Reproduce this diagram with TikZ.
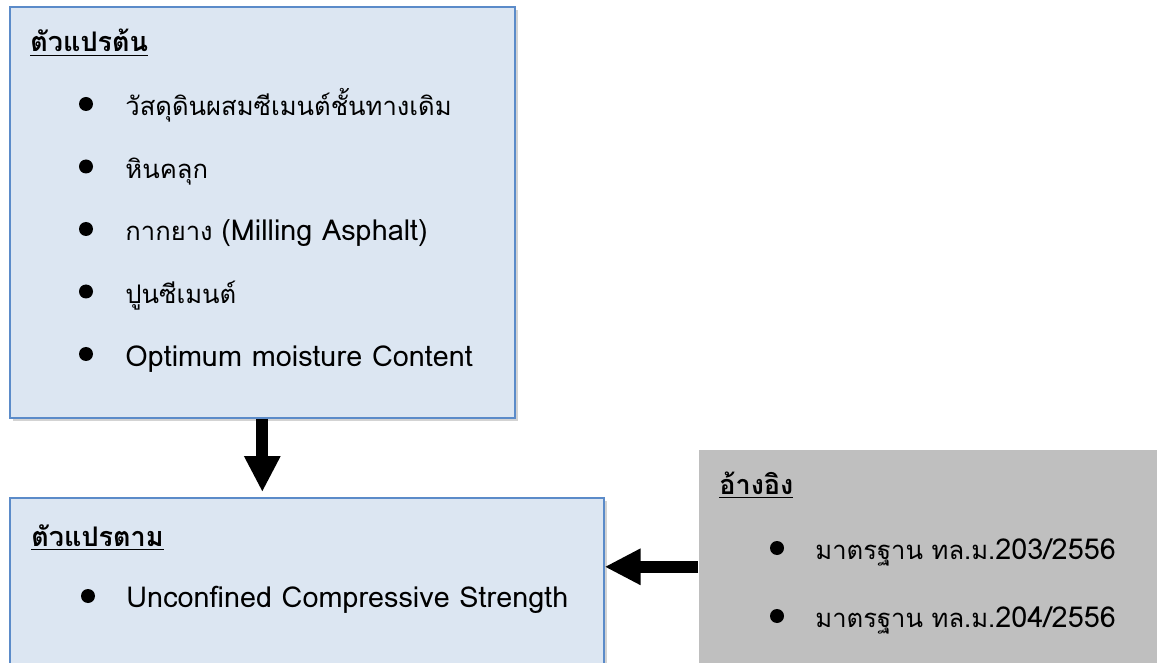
\documentclass[tikz,border=0pt]{standalone}
\usepackage{fontspec}
\setmainfont[Script=Thai]{Loma}
\usetikzlibrary{calc,shadows,arrows.meta}
\definecolor{boxblue}{HTML}{DCE6F2}
\definecolor{edgeblue}{HTML}{5B8BC9}
\definecolor{refgrey}{HTML}{BFBFBF}
\newcommand\headTitle[1]{\underline{\textbf{#1}}}
\newcommand\lat[1]{{\fontsize{14.4pt}{16pt}\selectfont #1}}

\begin{document}
\begin{tikzpicture}[x=0.5pt,y=-0.5pt,
  box/.style={draw=edgeblue,line width=0.8pt,fill=boxblue,anchor=north west,inner sep=0pt,
    drop shadow={opacity=0.35,shadow xshift=1.5pt,shadow yshift=-1.5pt}},
  refbox/.style={box,draw=none,fill=refgrey},
  item/.style={anchor=base west,inner sep=0pt,font=\fontsize{12.8pt}{16pt}\selectfont},
  dot/.style={circle,fill=black,inner sep=0pt,minimum size=7pt},
  fatarrow/.style={line width=6pt,-{Triangle[width=17pt,length=18pt]}}]

  %% Page frame
  \useasboundingbox (0,0) rectangle (1157,663);
  \clip (0,0) rectangle (1157,663);

  %% The three boxes
  \node[box,minimum width=252.5pt,minimum height=205.5pt] (INDEP) at (9,6) {};
  \node[box,minimum width=297pt,minimum height=101.5pt] (DEP) at (9,497) {};
  \node[refbox,minimum width=251pt,minimum height=117pt] (REF) at (698,449) {};

  %% Headings
  \node[item,font=\fontsize{13.5pt}{16pt}\selectfont] (INDEPH) at (30,52) {\headTitle{ตัวแปรต้น}};
  \node[item,font=\fontsize{13.5pt}{16pt}\selectfont] (DEPH) at (31,546) {\headTitle{ตัวแปรตาม}};
  \node[item,font=\fontsize{13.5pt}{16pt}\selectfont] (REFH) at (719,494) {\headTitle{อ้างอิง}};

  %% Items of the first box
  \foreach \n/\txt in {1/วัสดุดินผสมซีเมนต์ชั้นทางเดิม, 2/หินคลุก,
    3/{กากยาง \lat{(Milling Asphalt)}}, 4/ปูนซีเมนต์, 5/{\lat{Optimum moisture Content}}}
  {
    \node[item] (IN\n) at (125,{53.5+62.5*\n}) {\txt};
    \node[dot] (DIN\n) at (86,{41.5+62.5*\n}) {};
  }

  %% Item of the second box
  \node[item] (OUT1) at (126,607) {\lat{Unconfined Compressive Strength}};
  \node[dot] (DOUT1) at (88,596) {};

  %% Items of the reference box
  \foreach \n/\txt in {1/{มาตรฐาน ทล.ม.\lat{203/2556}}, 2/{มาตรฐาน ทล.ม.\lat{204/2556}}}
  {
    \node[item] (REF\n) at (815,{491+68*\n}) {\txt};
    \node[dot] (DREF\n) at (777,{480+68*\n}) {};
  }

  %% Arrows
  \draw[fatarrow,shorten >=2.5pt] (INDEP.south) -- (INDEP.south |- DEP.north);
  \draw[fatarrow] (REF.west) -- (REF.west -| DEP.east);

\end{tikzpicture}
\end{document}
